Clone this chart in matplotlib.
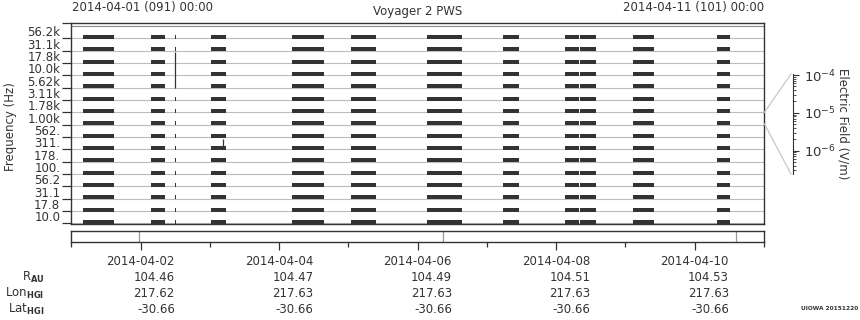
#!/usr/bin/env python3
import numpy as np
import matplotlib
matplotlib.use('Agg')
import matplotlib.pyplot as plt
from matplotlib import transforms
from matplotlib.lines import Line2D
from matplotlib.ticker import LogLocator, NullFormatter

# frequency channels, bottom to top
freq_labels = ['10.0', '17.8', '31.1', '56.2', '100.', '178.', '311.', '562.',
               '1.00k', '1.78k', '3.11k', '5.62k', '10.0k', '17.8k', '31.1k', '56.2k']

# data segments, hours since 2014-04-01 00:00
seg_start = [4.0, 27.6, 35.9, 48.4, 76.5, 96.9, 123.2, 149.6, 171.0, 176.3, 194.6, 223.7]
seg_end = [14.8, 32.5, 36.3, 53.6, 87.6, 105.6, 135.4, 155.1, 175.9, 181.8, 201.9, 228.2]

# isolated spikes: (hour, channel low, channel high)
spikes = [(36.1, 11.0, 13.85), (52.7, 6.13, 6.8)]

# markers in the time strip below, hours
strip_marks = [23.6, 128.9, 230.2]

tick_dates = ['2014-04-02', '2014-04-04', '2014-04-06', '2014-04-08', '2014-04-10']
tick_rau = ['104.46', '104.47', '104.49', '104.51', '104.53']
tick_lon = ['217.62', '217.63', '217.63', '217.63', '217.63']
tick_lat = ['-30.66', '-30.66', '-30.66', '-30.66', '-30.66']

W, H = 860, 320
FS = 8.5
DARK = '#333333'
plt.rcParams['font.family'] = 'DejaVu Sans'
plt.rcParams['font.size'] = FS

fig = plt.figure(figsize=(W / 100, H / 100), dpi=100)

def fx(px):
    return px / W

def fy(py):
    return 1 - py / H

# main spectrogram-like panel
ax = fig.add_axes([fx(71.3), fy(223.7), fx(764 - 71.3), (223.7 - 23.3) / H])
ytop = 15 + (38.3 - 23.3) / 12.333
ax.set_xlim(0, 240)
ax.set_ylim(-0.03, ytop)
for ch in range(len(freq_labels)):
    ax.axhline(ch, color='#bdbdbd', lw=0.8, zorder=1)
    ax.broken_barh([(s, e - s) for s, e in zip(seg_start, seg_end)],
                   (ch - 0.06, 0.33), facecolors=DARK, edgecolor='none', zorder=2)
ax.axhline(ytop - 2.7 / 12.333, color='#888888', lw=0.8, zorder=1)
for t, lo, hi in spikes:
    ax.vlines(t, lo, hi, color=DARK, lw=0.9, zorder=3)

ax.set_yticks(range(len(freq_labels)))
ax.set_yticklabels(freq_labels)
ax.set_yticks([ytop], minor=True)
ax.tick_params(axis='y', which='both', length=6.5, width=0.9, color=DARK, pad=1.5,
               labelsize=FS, labelcolor='#333333')
off = transforms.ScaledTranslation(0, 7 / 100, fig.dpi_scale_trans)
for lab in ax.get_yticklabels():
    lab.set_transform(lab.get_transform() + off)
ax.set_xticks([])
for sp in ax.spines.values():
    sp.set_color(DARK)
    sp.set_linewidth(1.0)

# time strip with tick labels and ephemeris
axb = fig.add_axes([fx(71.3), fy(242), fx(764 - 71.3), 10.7 / H])
axb.set_xlim(0, 240)
axb.set_yticks([])
for t in strip_marks:
    axb.axvline(t, color='#999999', lw=0.9)
major = [24 + 48 * i for i in range(len(tick_dates))]
axb.set_xticks(major)
axb.set_xticklabels(['\n'.join(v) for v in zip(tick_dates, tick_rau, tick_lon, tick_lat)])
axb.set_xticks([48 * i for i in range(6)], minor=True)
axb.tick_params(axis='x', which='major', length=6, width=0.9, color=DARK, pad=3.5,
                labelsize=FS, labelcolor='#333333')
axb.tick_params(axis='x', which='minor', length=3.5, width=0.9, color=DARK)
for lab in axb.get_xticklabels():
    lab.set_multialignment('right')
    lab.set_linespacing(1.3)
for sp in axb.spines.values():
    sp.set_color(DARK)
    sp.set_linewidth(1.0)

row_names = [r'R$_{\mathbf{AU}}$', r'Lon$_{\mathbf{HGI}}$', r'Lat$_{\mathbf{HGI}}$']
for name, py in zip(row_names, [277, 293, 309]):
    fig.text(fx(44.5), fy(py), name, ha='right', va='center', fontsize=FS, color='#333333')

# colour scale axis (no colours, just the scale)
axc = fig.add_axes([fx(785), fy(174), fx(793 - 785), 100 / H])
axc.set_yscale('log')
axc.set_ylim(10 ** (-6 - 23.3 / 37.7), 10 ** (-4 + 1 / 37.7))
axc.set_xticks([])
axc.yaxis.tick_right()
axc.yaxis.set_major_locator(LogLocator(base=10, numticks=10))
axc.yaxis.set_minor_locator(LogLocator(base=10, subs=np.arange(2, 10), numticks=10))
axc.yaxis.set_minor_formatter(NullFormatter())
axc.tick_params(axis='y', which='major', length=4, width=0.8, color=DARK, pad=4,
                labelsize=FS + 1, labelcolor='#333333')
axc.tick_params(axis='y', which='minor', length=2.5, width=0.6, color=DARK)
for k, sp in axc.spines.items():
    sp.set_visible(k == 'right')
axc.spines['right'].set_color(DARK)
axc.patch.set_alpha(0)

for (x0, y0), (x1, y1) in [((764.5, 112.3), (791, 74)), ((764.5, 124), (791, 174))]:
    fig.add_artist(Line2D([fx(x0), fx(x1)], [fy(y0), fy(y1)], color='#c8c8c8', lw=0.9))

fig.text(fx(843), fy(124), 'Electric Field (V/m)', rotation=270, ha='center', va='center',
         fontsize=FS, color='#333333')
fig.text(fx(11), fy(127), 'Frequency (Hz)', rotation=90, ha='center', va='center',
         fontsize=FS, color='#333333')

fig.text(fx(418), fy(11), 'Voyager 2 PWS', ha='center', va='center', fontsize=FS, color='#333333')
fig.text(fx(72), fy(8), '2014-04-01 (091) 00:00', ha='left', va='center', fontsize=FS, color='#333333')
fig.text(fx(764), fy(8), '2014-04-11 (101) 00:00', ha='right', va='center', fontsize=FS, color='#333333')
fig.text(fx(858), fy(309), 'UIOWA 20151220', ha='right', va='center', fontsize=4.2,
         fontweight='bold', color='#333333')

fig.savefig('out.png', dpi=100)
